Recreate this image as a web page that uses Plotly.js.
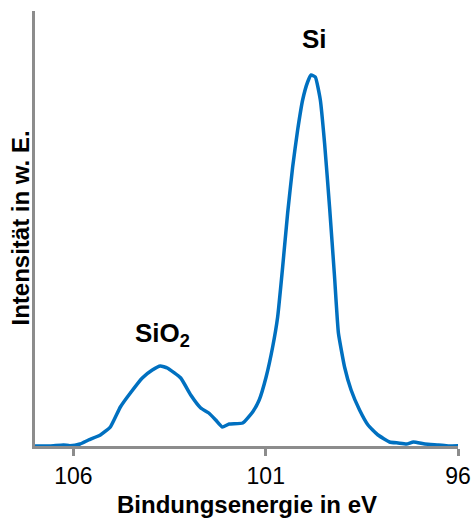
<!DOCTYPE html>
<html><head><meta charset="utf-8">
<script src="https://cdn.plot.ly/plotly-3.0.1.min.js"></script>
<style>html,body{margin:0;padding:0;background:#fff}#chart{width:472px;height:519px}</style>
</head><body><div id="chart"></div>
<script>
var energy = [107.00,106.61,106.26,106.09,105.83,105.61,105.30,105.04,104.78,104.52,104.21,103.95,103.74,103.56,103.21,102.95,102.69,102.48,102.30,102.13,101.95,101.60,101.34,101.17,100.99,100.82,100.69,100.56,100.43,100.30,100.17,100.04,99.91,99.82,99.71,99.58,99.47,99.34,99.21,99.11,98.95,98.78,98.56,98.34,98.08,97.78,97.56,97.34,97.16,96.86,96.51,96.25,95.97];
var intensity = [0,0,1,0.3,2,6,11,19,39,53,68,76,80,78,68,51,38,33,26,19,22,23,34,46,69,99,129,179,233,279,316,346,364,371,369,346,303,239,169,113,79,56,36,21,11,4,3,2,4,2,1,0,0.3];
var tickVals = [106,101,96];
var tickText = ["106","101","96"];
var peakLabels = ["Si","SiO<sub>2</sub>"];

var trace = {x: energy, y: intensity, type: 'scatter', mode: 'lines',
  line: {color: '#0070C0', width: 3.5, shape: 'spline', smoothing: 0.4}, hoverinfo: 'none'};

var layout = {
  width: 472, height: 519,
  margin: {l: 35, r: 14, t: 11, b: 73},
  paper_bgcolor: '#fff', plot_bgcolor: '#fff',
  showlegend: false,
  font: {family: 'Liberation Sans, Arial, sans-serif', color: '#000'},
  xaxis: {range: [107, 96], showgrid: false, zeroline: false, automargin: false,
    showline: true, linecolor: '#8c8c8c', linewidth: 3,
    ticks: 'outside', ticklen: 7, tickwidth: 3, tickcolor: '#8c8c8c',
    tickvals: tickVals, ticktext: tickText, tickfont: {size: 23, color: '#000'},
    title: {text: '', font: {size: 24, color: '#000'}}},
  yaxis: {range: [0, 435], showgrid: false, zeroline: false, automargin: false,
    showline: true, linecolor: '#8c8c8c', linewidth: 3,
    ticks: '', showticklabels: false,
    title: {text: '', font: {size: 24, color: '#000'}}},
  annotations: [
    {x: 0.5, y: 0, xref: 'paper', yref: 'paper', yshift: -58, xanchor: 'center', yanchor: 'middle',
     text: '<b>Bindungsenergie in eV</b>', showarrow: false, font: {size: 24, color: '#000'}},
    {x: 0, y: 0.5, xref: 'paper', yref: 'paper', xshift: -15, textangle: -90, xanchor: 'center', yanchor: 'middle',
     text: '<b>Intensität in w. E.</b>', showarrow: false, font: {size: 24, color: '#000'}},
    {x: 99.74, y: 407, xref: 'x', yref: 'y', text: '<b>' + peakLabels[0] + '</b>', showarrow: false, font: {size: 26, color: '#000'}},
    {x: 103.68, y: 112, xref: 'x', yref: 'y', text: '<b>' + peakLabels[1] + '</b>', showarrow: false, font: {size: 26, color: '#000'}}
  ]
};
Plotly.newPlot('chart', [trace], layout, {displayModeBar: false, staticPlot: true});
</script></body></html>
